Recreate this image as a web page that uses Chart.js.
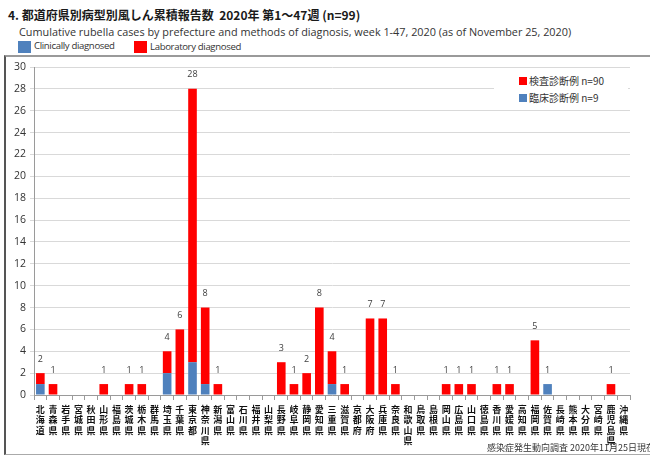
<!DOCTYPE html>
<html>
<head>
<meta charset="utf-8">
<script src="https://cdn.jsdelivr.net/npm/chart.js@4.4.0/dist/chart.umd.min.js"></script>
<style>
  html, body { margin:0; padding:0; background:#fff; width:650px; height:456px; overflow:hidden; }
  #wrap { position:relative; width:650px; height:456px; }
  .t { position:absolute; white-space:nowrap; }
  #title { left:8px; top:6px; font:bold 12px "Noto Sans CJK JP", sans-serif; color:#1a1a1a; }
  #sub { left:19px; top:24px; font:10.85px "Open Sans", sans-serif; color:#333; }
  .sq { position:absolute; width:13px; height:12px; }
  .lg { font:9.6px "Open Sans", sans-serif; color:#333; letter-spacing:-0.35px; }
  #frame { position:absolute; left:4px; top:55px; width:700px; height:397px; border-top:2px solid #9a9a9a; border-left:2px solid #555; border-bottom:1px solid #aaa; }
  #inlegend { position:absolute; left:494px; top:70px; width:134px; height:36px; background:#fff; }
  .il { position:absolute; font:10px "Noto Sans CJK JP", sans-serif; color:#333; white-space:nowrap; }
  .isq { position:absolute; width:8px; height:8px; }
  #src { left:487px; top:441px; font:9px "Noto Sans CJK JP", sans-serif; color:#333; }
  canvas { position:absolute; left:0; top:0; }
</style>
</head>
<body>
<div id="wrap">
  <div id="frame"></div>
  <div class="t" id="title">4. 都道府県別病型別風しん累積報告数&nbsp; 2020年 第1～47週 (n=99)</div>
  <div class="t" id="sub">Cumulative rubella cases by prefecture and methods of diagnosis, week 1-47, 2020 (as of November 25, 2020)</div>
  <div class="sq" style="left:18px;top:41px;background:#4F81BD"></div>
  <div class="t lg" style="left:34px;top:39px">Clinically diagnosed</div>
  <div class="sq" style="left:134px;top:41px;background:#FF0000"></div>
  <div class="t lg" style="left:150px;top:40px">Laboratory diagnosed</div>
  <div style="position:absolute;left:0;top:0;width:650px;height:456px"><canvas id="c" width="650" height="456"></canvas></div>
  <div id="inlegend">
    <div class="isq" style="left:25px;top:7px;background:#FF0000"></div>
    <div class="il" style="left:35px;top:3px">検査診断例 n=90</div>
    <div class="isq" style="left:25px;top:24px;background:#4F81BD"></div>
    <div class="il" style="left:35px;top:20px">臨床診断例 n=9</div>
  </div>
  <div class="t" id="src">感染症発生動向調査 2020年11月25日現在</div>
</div>
<script>
const prefectures = ['北海道','青森県','岩手県','宮城県','秋田県','山形県','福島県','茨城県','栃木県','群馬県',
  '埼玉県','千葉県','東京都','神奈川県','新潟県','富山県','石川県','福井県','山梨県','長野県',
  '岐阜県','静岡県','愛知県','三重県','滋賀県','京都府','大阪府','兵庫県','奈良県','和歌山県',
  '鳥取県','島根県','岡山県','広島県','山口県','徳島県','香川県','愛媛県','高知県','福岡県',
  '佐賀県','長崎県','熊本県','大分県','宮崎県','鹿児島県','沖縄県'];
const clinical = [1,0,0,0,0,0,0,0,0,0, 2,0,3,1,0,0,0,0,0,0, 0,0,0,1,0,0,0,0,0,0, 0,0,0,0,0,0,0,0,0,0, 1,0,0,0,0,0,0];
const laboratory = [1,1,0,0,0,1,0,1,1,0, 2,6,25,7,1,0,0,0,0,3, 1,2,8,3,1,0,7,7,1,0, 0,0,1,1,1,0,1,1,0,5, 0,0,0,0,0,1,0];
const yMin = 0, yMax = 30, yStep = 2;

const verticalLabels = prefectures.map(p => p.split(''));

const totalLabels = {
  id: 'totalLabels',
  afterDatasetsDraw(chart) {
    const ctx = chart.ctx;
    const x = chart.scales.x, y = chart.scales.y;
    ctx.save();
    ctx.font = '9px "Open Sans", sans-serif';
    ctx.fillStyle = '#404040';
    ctx.textAlign = 'center';
    ctx.textBaseline = 'middle';
    prefectures.forEach((p, i) => {
      const tot = clinical[i] + laboratory[i];
      if (tot > 0) {
        ctx.fillText(String(tot), x.getPixelForValue(i), y.getPixelForValue(tot) - 14);
      }
    });
    ctx.restore();
  }
};

new Chart(document.getElementById('c'), {
  type: 'bar',
  data: {
    labels: verticalLabels,
    datasets: [
      { label: 'Clinically diagnosed', data: clinical, backgroundColor: '#4F81BD', stack: 's' },
      { label: 'Laboratory diagnosed', data: laboratory, backgroundColor: '#FF0000', stack: 's' }
    ]
  },
  options: {
    responsive: false,
    animation: false,
    maintainAspectRatio: false,
    layout: { padding: { left: 0, right: 20, top: 67, bottom: 0 } },
    datasets: { bar: { barPercentage: 0.68, categoryPercentage: 1.0 } },
    plugins: { legend: { display: false }, tooltip: { enabled: false } },
    scales: {
      x: {
        stacked: true,
        offset: true,
        grid: { offset: true, drawOnChartArea: false, drawTicks: true, tickLength: 5, color: '#9a9a9a' },
        border: { color: '#9a9a9a' },
        ticks: {
          autoSkip: false, maxRotation: 0, minRotation: 0, padding: 4,
          color: '#111',
          font: { family: '"Noto Sans CJK JP", sans-serif', size: 9, weight: 'bold', lineHeight: 1.17 }
        },
        afterFit(s) { s.height = 61; }
      },
      y: {
        stacked: true,
        min: yMin, max: yMax,
        grid: { color: '#d9d9d9', tickLength: 4, drawTicks: true },
        border: { color: '#9a9a9a' },
        ticks: {
          stepSize: yStep, padding: 4, color: '#333',
          font: { family: '"Open Sans", sans-serif', size: 10.5 }
        },
        afterFit(s) { s.width = 34; }
      }
    }
  },
  plugins: [totalLabels]
});
</script>
</body>
</html>
